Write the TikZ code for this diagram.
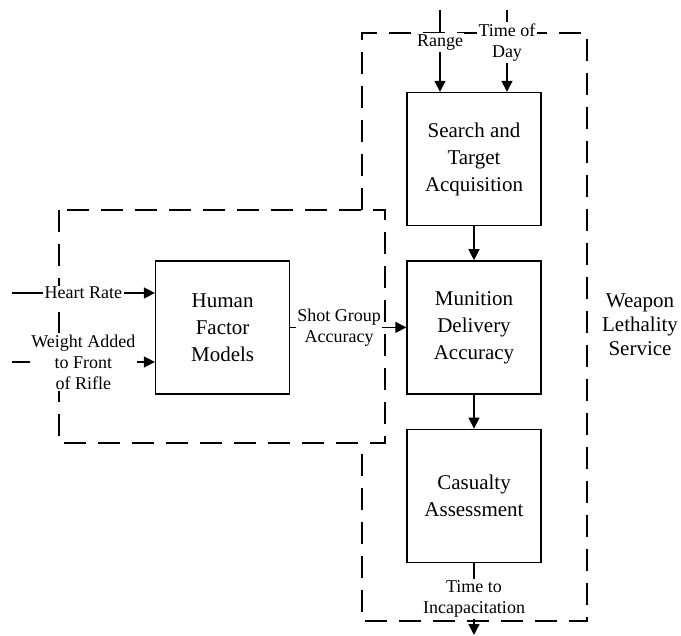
\documentclass[tikz,border=0pt]{standalone}
\usepackage{fontspec}
\setmainfont{Liberation Serif}
\usetikzlibrary{arrows.meta}
\usetikzlibrary{positioning}
\tikzset{
    block/.style={
           rectangle,
           draw=black, line width=1.4pt,
           minimum width=134pt,
           minimum height=133pt,
           align=center,
           font=\fontsize{21}{27}\selectfont,
           },
}
\tikzset{
    lbl/.style={
           fill=white,
           inner sep=1.5pt,
           align=center,
           font=\fontsize{18}{21}\selectfont,
           },
}
\tikzset{
    flow/.style={
           line width=1.4pt,
           -{Triangle[length=11pt,width=11pt]},
           },
}
\tikzset{
    bound/.style={
           line width=1.5pt,
           dash pattern=on 22pt off 12pt,
           },
}

\begin{document}
\begin{tikzpicture}[x=1pt,y=-1pt,node distance=34pt]
\useasboundingbox (0,0) rectangle (681,636);
% boundaries
\draw[bound] (59,210) rectangle (385,443);
\draw[bound] (362,210) -- (362,33) -- (587,33) -- (587,621) -- (362,621) -- (362,443);
% blocks
\node[block](search) at (474,159){Search and\\Target\\Acquisition};
\node[block,below=of search](munition){Munition\\Delivery\\Accuracy};
\node[block,below=of munition](casualty){Casualty\\Assessment};
\node[block,left=116pt of munition](hf){Human\\Factor\\Models};
\node[align=center,font=\fontsize{21}{24}\selectfont](wls) at (640,325){Weapon\\Lethality\\Service};
% free ends
\coordinate (rangein) at (440,10);
\coordinate (todin) at (507,10);
\coordinate (hrin) at (12,293);
\coordinate (wtin) at (12,362);
\coordinate (ttiout) at (474,635);
% flows
\draw[flow] (rangein) -- node[lbl,pos=0.4]{Range} (rangein |- search.north);
\draw[flow] (todin) -- node[lbl,pos=0.4]{Time of\\Day} (todin |- search.north);
\draw[flow] (search) -- (munition);
\draw[flow] (munition) -- (casualty);
\draw[flow] (hrin) -- node[lbl]{Heart Rate} (hrin -| hf.west);
\draw[flow] (wtin) -- node[lbl]{Weight Added\\to Front\\of Rifle} (wtin -| hf.west);
\draw[flow] (hf) -- node[lbl,pos=0.42]{Shot Group\\Accuracy} (munition);
\draw[flow] (casualty) -- node[lbl]{Time to\\Incapacitation} (ttiout);
\end{tikzpicture}
\end{document}
